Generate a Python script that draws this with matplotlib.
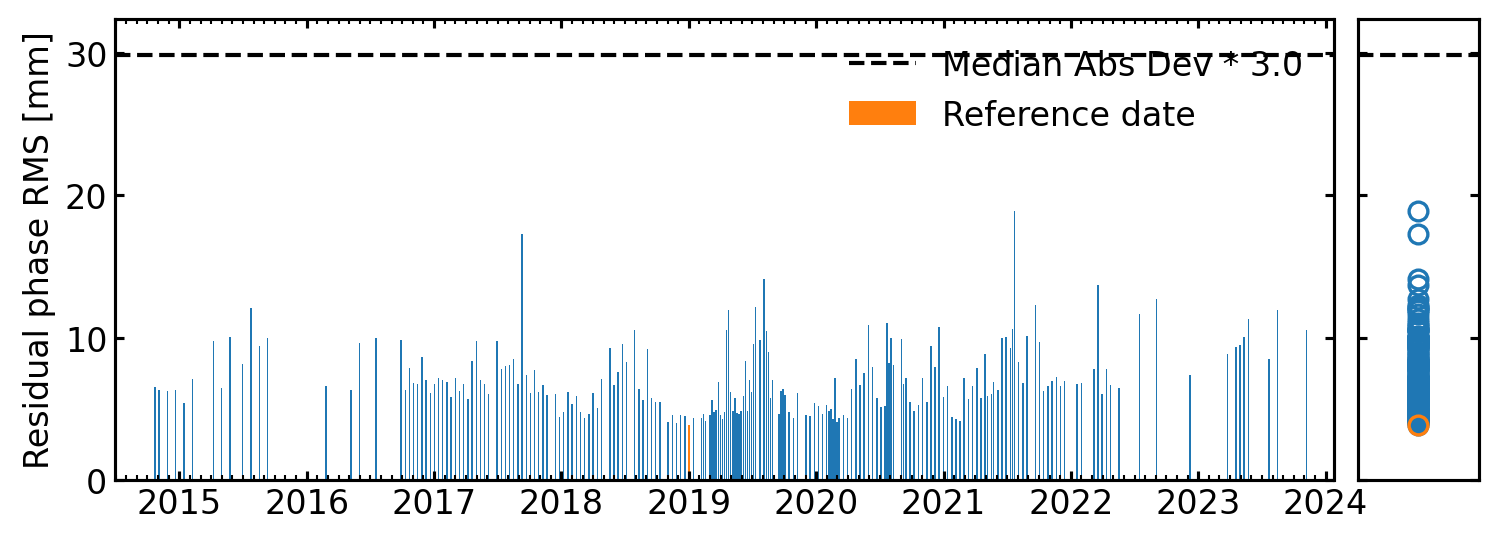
import numpy as np
import matplotlib
matplotlib.use("Agg")
import matplotlib.pyplot as plt
from matplotlib.ticker import MultipleLocator, FormatStrFormatter

# acquisition dates (decimal year) and residual phase RMS [mm]
dates = [
    2014.809, 2014.841, 2014.906, 2014.969, 2015.037, 2015.102, 2015.267, 2015.330,
    2015.398, 2015.495, 2015.561, 2015.628, 2015.691, 2016.152, 2016.346, 2016.413,
    2016.542, 2016.741, 2016.775, 2016.806,
    2016.837, 2016.869, 2016.906, 2016.937, 2016.971, 2017.002, 2017.034, 2017.068,
    2017.102, 2017.134, 2017.167, 2017.199, 2017.230, 2017.267, 2017.298, 2017.332,
    2017.364, 2017.395, 2017.426, 2017.495, 2017.528, 2017.560, 2017.591, 2017.623,
    2017.657, 2017.691, 2017.725, 2017.756, 2017.788, 2017.819, 2017.856, 2017.887,
    2017.953, 2017.984, 2018.018, 2018.052, 2018.084, 2018.117, 2018.149, 2018.180,
    2018.217, 2018.249, 2018.282, 2018.314, 2018.380, 2018.413, 2018.445, 2018.479,
    2018.510, 2018.573, 2018.610, 2018.641, 2018.675, 2018.706, 2018.738, 2018.775,
    2018.835, 2018.871, 2018.903, 2018.934, 2018.971, 2019.000, 2019.036,
    2019.099, 2019.115, 2019.130, 2019.165, 2019.183, 2019.199, 2019.214, 2019.232,
    2019.248, 2019.264, 2019.280, 2019.295, 2019.311, 2019.327, 2019.346, 2019.364,
    2019.379, 2019.395, 2019.411, 2019.429, 2019.444, 2019.460, 2019.476, 2019.492,
    2019.507, 2019.523, 2019.560, 2019.591, 2019.609, 2019.625, 2019.641, 2019.656,
    2019.707, 2019.722, 2019.741, 2019.756, 2019.788, 2019.821, 2019.853, 2019.919,
    2019.953, 2019.986, 2020.018, 2020.049, 2020.081, 2020.099, 2020.115, 2020.131,
    2020.146, 2020.162, 2020.180, 2020.214, 2020.245, 2020.277, 2020.311, 2020.345,
    2020.377, 2020.410, 2020.442, 2020.476, 2020.508, 2020.539, 2020.557, 2020.573,
    2020.589, 2020.607, 2020.669, 2020.685, 2020.704, 2020.738, 2020.769, 2020.803,
    2020.834, 2020.869, 2020.900, 2020.934, 2020.965, 2020.999, 2021.031, 2021.065,
    2021.097, 2021.130, 2021.162, 2021.196, 2021.227, 2021.261, 2021.293, 2021.327,
    2021.345,
    2021.376, 2021.392, 2021.426, 2021.460, 2021.492, 2021.525, 2021.541, 2021.557,
    2021.588, 2021.625, 2021.656, 2021.722, 2021.753, 2021.784, 2021.821, 2021.853,
    2021.887, 2021.918, 2021.949, 2022.049, 2022.083, 2022.183, 2022.214, 2022.245,
    2022.279, 2022.311, 2022.377, 2022.538, 2022.672, 2022.936, 2023.229, 2023.295,
    2023.329, 2023.360, 2023.394, 2023.557, 2023.622, 2023.850,
]
rms = [
    6.52, 6.31, 6.24, 6.31, 5.40, 7.08, 9.74, 6.45,
    10.02, 8.13, 12.06, 9.39, 9.95, 6.59, 6.31, 9.60,
    9.95, 9.81, 6.31, 7.85,
    6.80, 6.73, 8.62, 7.01, 6.10, 6.73, 7.15, 7.01,
    6.87, 5.82, 7.15, 6.24, 6.73, 5.68, 8.34, 9.74,
    7.01, 6.73, 6.03, 9.74, 7.78, 7.99, 8.06, 8.48,
    6.73, 17.31, 7.36, 6.10, 7.71, 6.17, 6.66, 5.96,
    6.03, 4.42, 4.77, 6.17, 5.33, 5.89, 4.77, 4.35,
    4.63, 6.10, 5.05, 7.08, 9.25, 6.66, 7.57, 9.53,
    8.27, 10.51, 6.38, 5.61, 9.18, 5.75, 5.47, 5.47,
    4.07, 4.56, 4.00, 4.56, 4.49, 3.86, 4.35,
    4.35, 4.63, 4.14, 4.56, 5.61, 4.77, 4.91, 6.87,
    4.56, 4.28, 4.77, 10.51, 11.92, 6.17, 4.84, 5.75,
    4.70, 4.63, 4.84, 5.89, 8.34, 4.84, 7.01, 6.17,
    9.53, 12.13, 9.81, 14.16, 10.44, 8.97, 5.75, 7.01,
    4.63, 6.24, 6.38, 5.96, 4.77, 4.35, 6.10, 4.56,
    4.49, 5.40, 5.19, 4.63, 5.26, 4.84, 4.98, 4.28,
    7.15, 4.07, 4.35, 4.56, 4.35, 6.38, 8.48, 6.66,
    7.50, 10.86, 7.92, 5.75, 5.12, 5.19, 11.07, 8.20,
    9.95, 8.06, 9.88, 6.73, 7.15, 5.47, 4.84, 5.26,
    7.15, 5.47, 9.39, 7.92, 10.72, 5.82, 6.59, 4.42,
    4.28, 4.14, 7.15, 5.68, 6.59, 7.85, 5.75, 8.83,
    5.89,
    6.03, 6.87, 6.31, 9.95, 10.02, 9.25, 10.58, 18.93,
    8.27, 6.80, 10.09, 12.27, 9.67, 6.24, 6.59, 6.94,
    7.22, 6.59, 6.94, 6.73, 6.80, 7.78, 13.74, 6.03,
    7.78, 6.66, 6.45, 11.64, 12.69, 7.36, 8.83, 9.32,
    9.46, 10.02, 11.29, 8.48, 11.92, 10.51,
]
ref_date = 2019.000
ref_rms = 3.86
threshold = 29.85

dates = np.array(dates)
rms = np.array(rms)
bar_width = 4.5 / 365.25
fs = 16
ymax = 32.4

fig = plt.figure(figsize=(10, 3.6333), dpi=150)
ax1 = fig.add_axes([0.0765, 0.1174, 0.8125, 0.8459])
ax2 = fig.add_axes([0.9051, 0.1174, 0.0811, 0.8459])

ax1.bar(dates, rms, width=bar_width, color='C0')
ax1.bar([ref_date], [ref_rms], width=bar_width, color='C1', label='Reference date')
ax1.axhline(threshold, color='k', ls='--', lw=2, label='Median Abs Dev * 3.0')

ax2.plot(np.full(len(rms), 0.5), rms, 'o', mfc='none', mec='C0', ms=9, mew=1.6)
ax2.plot([0.5], [ref_rms], 'o', mfc='none', mec='C1', ms=9, mew=1.6)
ax2.axhline(threshold, color='k', ls='--', lw=2)

ax1.set_xlim(2014.493, 2024.062)
ax1.set_ylim(0, ymax)
ax2.set_xlim(0, 1)
ax2.set_ylim(0, ymax)

ax1.xaxis.set_major_locator(MultipleLocator(1))
ax1.xaxis.set_minor_locator(MultipleLocator(1 / 12))
ax1.xaxis.set_major_formatter(FormatStrFormatter('%d'))
ax1.yaxis.set_major_locator(MultipleLocator(10))
ax2.yaxis.set_major_locator(MultipleLocator(10))

for ax in (ax1, ax2):
    ax.tick_params(which='major', direction='in', top=True, right=True,
                   length=4.5, width=1.5, labelsize=fs)
    ax.tick_params(which='minor', direction='in', top=True, right=True,
                   length=2.5, width=1)
    for s in ax.spines.values():
        s.set_linewidth(1.5)

ax2.tick_params(labelleft=False, labelbottom=False, bottom=False, top=False)
ax2.xaxis.set_ticks([])

ax1.set_ylabel('Residual phase RMS [mm]', fontsize=fs)
ax1.legend(loc='upper right', frameon=False, fontsize=fs)

fig.savefig('out.png', dpi=150)
